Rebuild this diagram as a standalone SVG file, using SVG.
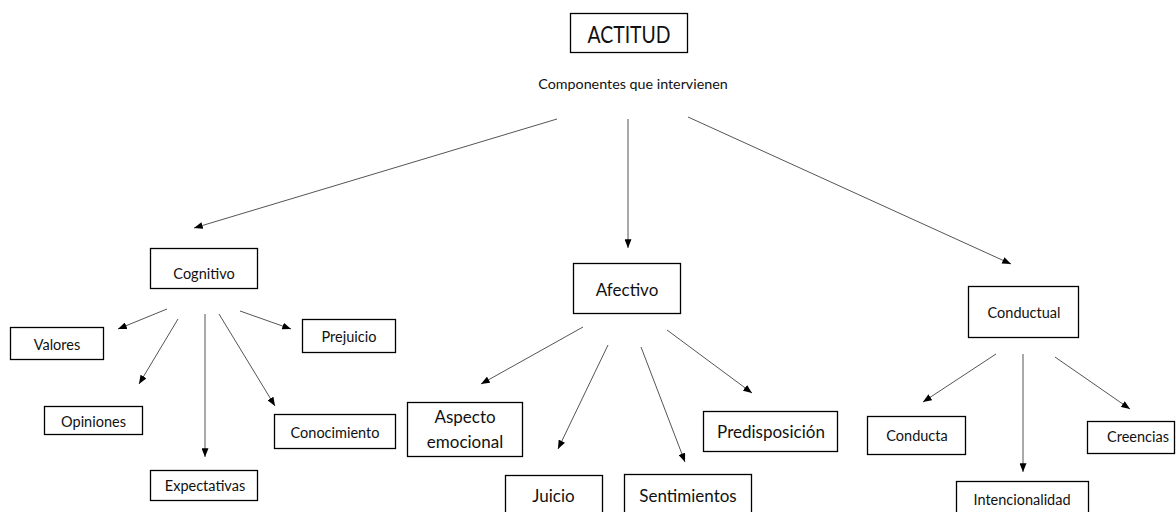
<svg xmlns="http://www.w3.org/2000/svg" width="1176" height="512" viewBox="0 0 1176 512">
<defs>
<marker id="ah" viewBox="0 0 10 8" refX="10" refY="4" markerWidth="9" markerHeight="7" markerUnits="userSpaceOnUse" orient="auto">
<path d="M0,0 L10,4 L0,8 z" fill="#000"/>
</marker>
<style>
.box{fill:#fff;stroke:#000;stroke-width:1.3}
.t{font-family:Lato,"Open Sans",sans-serif;fill:#111;text-anchor:middle}
.s{font-size:14.5px}
.m{font-size:17px}
.c{stroke:#555;stroke-width:1;fill:none;marker-end:url(#ah)}
</style>
</defs>
<rect width="1176" height="512" fill="#fff"/>
<g id="connectors">
<line class="c" x1="557" y1="119" x2="194" y2="228"/>
<line class="c" x1="628" y1="119" x2="628" y2="248"/>
<line class="c" x1="688" y1="117" x2="1011" y2="264"/>
<line class="c" x1="167" y1="309" x2="118" y2="329"/>
<line class="c" x1="178" y1="319" x2="139" y2="384"/>
<line class="c" x1="205" y1="314" x2="205" y2="457"/>
<line class="c" x1="219" y1="314" x2="275" y2="406"/>
<line class="c" x1="240" y1="311" x2="291" y2="329"/>
<line class="c" x1="583" y1="327" x2="481" y2="384"/>
<line class="c" x1="608" y1="345" x2="558" y2="449"/>
<line class="c" x1="641" y1="347" x2="685" y2="462"/>
<line class="c" x1="667" y1="330" x2="752" y2="393"/>
<line class="c" x1="996" y1="354" x2="923" y2="402"/>
<line class="c" x1="1023" y1="354" x2="1023" y2="472"/>
<line class="c" x1="1055" y1="357" x2="1130" y2="409"/>
</g>
<g id="actitud">
<rect class="box" x="570.5" y="13.5" width="117" height="39"/>
<text class="t" x="629" y="43" font-size="23" textLength="83" lengthAdjust="spacingAndGlyphs">ACTITUD</text>
</g>
<g id="componentes">
<text class="t" x="633" y="89" font-size="14.3">Componentes que intervienen</text>
</g>
<g id="cognitivo">
<rect class="box" x="150.5" y="248.5" width="107" height="40"/>
<text class="t s" x="204" y="279">Cognitivo</text>
</g>
<g id="valores">
<rect class="box" x="10.5" y="327.5" width="93" height="32"/>
<text class="t s" x="57" y="350">Valores</text>
</g>
<g id="opiniones">
<rect class="box" x="44.5" y="406.5" width="98" height="28"/>
<text class="t s" x="93.5" y="427">Opiniones</text>
</g>
<g id="expectativas">
<rect class="box" x="150.5" y="470.5" width="107" height="30"/>
<text class="t s" x="205" y="491">Expectativas</text>
</g>
<g id="conocimiento">
<rect class="box" x="274.5" y="414.5" width="121" height="34"/>
<text class="t s" x="335" y="438">Conocimiento</text>
</g>
<g id="prejuicio">
<rect class="box" x="302.5" y="319.5" width="93" height="33"/>
<text class="t s" x="349" y="342">Prejuicio</text>
</g>
<g id="afectivo">
<rect class="box" x="573.5" y="263.5" width="107" height="50"/>
<text class="t m" x="627" y="296">Afectivo</text>
</g>
<g id="aspecto">
<rect class="box" x="407.5" y="402.5" width="115" height="54"/>
<text class="t m" x="465" y="423">Aspecto</text>
<text class="t m" x="465" y="448">emocional</text>
</g>
<g id="juicio">
<rect class="box" x="505.5" y="475.5" width="97" height="45"/>
<text class="t m" x="553.5" y="502">Juicio</text>
</g>
<g id="sentimientos">
<rect class="box" x="624.5" y="474.5" width="127" height="45"/>
<text class="t m" x="688" y="502">Sentimientos</text>
</g>
<g id="predisposicion">
<rect class="box" x="703.5" y="411.5" width="134" height="40"/>
<text class="t m" x="771" y="438">Predisposición</text>
</g>
<g id="conductual">
<rect class="box" x="968.5" y="286.5" width="110" height="51"/>
<text class="t s" x="1024" y="318">Conductual</text>
</g>
<g id="conducta">
<rect class="box" x="867.5" y="416.5" width="98" height="38"/>
<text class="t s" x="917" y="441">Conducta</text>
</g>
<g id="intencionalidad">
<rect class="box" x="956.5" y="481.5" width="132" height="40"/>
<text class="t s" x="1022" y="505">Intencionalidad</text>
</g>
<g id="creencias">
<rect class="box" x="1087.5" y="421.5" width="87" height="32"/>
<text class="t s" x="1138" y="442">Creencias</text>
</g>
</svg>
